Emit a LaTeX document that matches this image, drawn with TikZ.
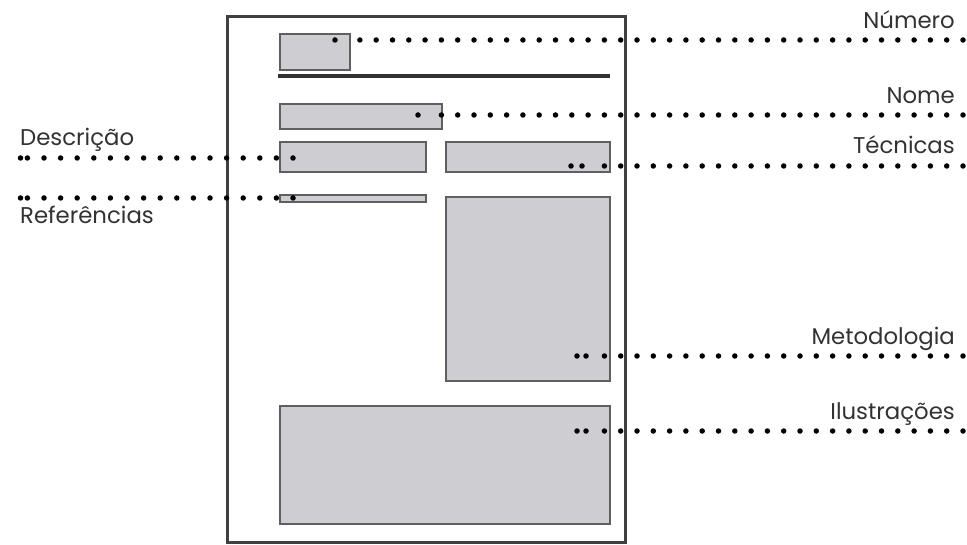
\documentclass[tikz,border=0pt]{standalone}
\usepackage{fontspec}
\setmainfont{Poppins}
\definecolor{fieldgray}{RGB}{206,206,210}
\definecolor{fieldline}{RGB}{95,95,98}
\definecolor{labelgray}{RGB}{50,50,50}

\begin{document}
\begin{tikzpicture}[x=1pt,y=-1pt,
	page/.style={draw=black!75,line width=3pt},
	field/.style={draw=fieldline,fill=fieldgray,line width=2.2pt,
		anchor=north west,inner sep=0pt},
	dots/.style={line width=5.5pt,line cap=round,dash pattern=on 0pt off 16.3pt},
	dot/.style={circle,fill,inner sep=0pt,minimum size=5.5pt},
	lbl/.style={font=\fontsize{22.8}{26}\selectfont,text=labelgray,inner sep=0pt}]
	
	\useasboundingbox (0,0) rectangle (967,545);
	
	% the sheet
	\draw[page] (227,17) rectangle (625,542);
	
	\node[field,minimum width=70pt,minimum height=36pt] (num) at (279,33) {};
	\draw[line width=4pt,black!80] (278,76) -- (610,76);
	\node[field,minimum width=162pt,minimum height=25pt] (nome) at (279,103) {};
	\node[field,minimum width=146pt,minimum height=30pt] (desc) at (279,141) {};
	\node[field,minimum width=164pt,minimum height=30pt] (tec) at (445,141) {};
	\node[field,minimum width=146pt,minimum height=7pt,line width=1.6pt] (ref) at (279,194) {};
	\node[field,minimum width=164pt,minimum height=184pt] (met) at (445,196) {};
	\node[field,minimum width=330pt,minimum height=118pt] (ilu) at (279,405) {};
	
	% labels
	\node[lbl,anchor=base east] (num-lbl) at (955,29) {Número};
	\node[lbl,anchor=base east] (nome-lbl) at (955,104) {Nome};
	\node[lbl,anchor=base east] (tec-lbl) at (955,154) {Técnicas};
	\node[lbl,anchor=base east] (met-lbl) at (955,345) {Metodologia};
	\node[lbl,anchor=base east] (ilu-lbl) at (955,420) {Ilustrações};
	\node[lbl,anchor=base west] (desc-lbl) at (20,146) {Descrição};
	\node[lbl,anchor=base west] (ref-lbl) at (20,224) {Referências};
	
	% dotted leaders, drawn from the outer end inwards
	\coordinate (num-end) at (963,40);
	\coordinate (nome-end) at (963,115);
	\coordinate (tec-end) at (963,166);
	\coordinate (met-end) at (963,356);
	\coordinate (ilu-end) at (963,431);
	\coordinate (desc-end) at (293,158);
	\coordinate (ref-end) at (293,198);
	
	\draw[dots] (num-end) -- (355,40);
	\draw[dots] (nome-end) -- (440,115);
	\draw[dots] (tec-end) -- (598,166);
	\draw[dots] (met-end) -- (598,356);
	\draw[dots] (ilu-end) -- (598,431);
	\draw[dots,dash pattern=on 0pt off 16.6pt] (desc-end) -- (26,158);
	\draw[dots,dash pattern=on 0pt off 16.6pt] (ref-end) -- (26,198);
	
	% loose dots at the inner ends
	\node[dot] at (335,40) {};
	\node[dot] at (418,115) {};
	\node[dot] at (571,166) {};
	\node[dot] at (582,166) {};
	\foreach \y in {356,431} {
		\node[dot] at (577,\y) {};
		\node[dot] at (586,\y) {};
	}
	\node[dot] at (20.5,158) {};
	\node[dot] at (20.5,198) {};
\end{tikzpicture}
\end{document}
